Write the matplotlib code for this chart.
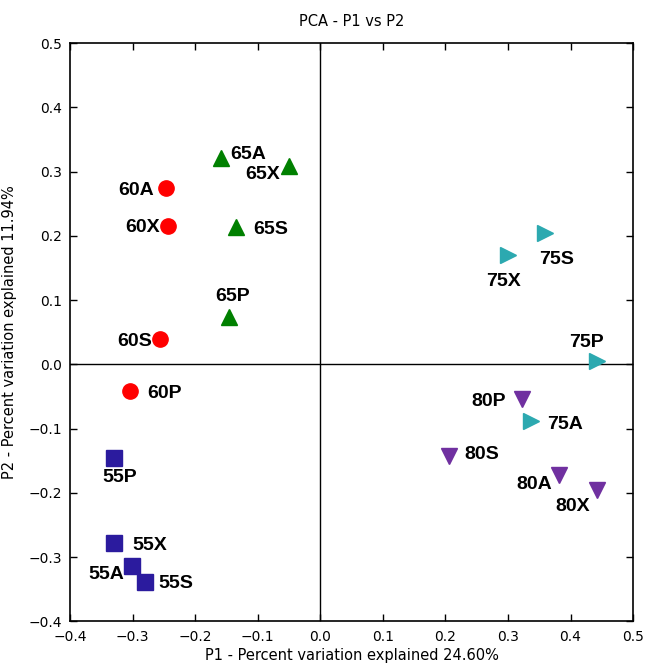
import matplotlib
matplotlib.use('Agg')
import matplotlib.pyplot as plt

plt.rcParams['font.size'] = 10

# PCA scores (P1, P2) per sample group
names_55 = ['55P', '55X', '55A', '55S']
p1_55 = [-0.329, -0.329, -0.301, -0.280]
p2_55 = [-0.146, -0.278, -0.313, -0.338]

names_60 = ['60A', '60X', '60S', '60P']
p1_60 = [-0.247, -0.243, -0.256, -0.304]
p2_60 = [0.274, 0.216, 0.040, -0.042]

names_65 = ['65A', '65X', '65S', '65P']
p1_65 = [-0.158, -0.050, -0.134, -0.146]
p2_65 = [0.321, 0.309, 0.214, 0.074]

names_75 = ['75S', '75X', '75P', '75A']
p1_75 = [0.360, 0.300, 0.442, 0.337]
p2_75 = [0.205, 0.170, 0.005, -0.088]

names_80 = ['80P', '80S', '80A', '80X']
p1_80 = [0.322, 0.205, 0.382, 0.442]
p2_80 = [-0.054, -0.143, -0.172, -0.195]

# label placement: (dx right, dy down) in pixels, horizontal alignment
label_pos = {
    '55P': (5, 19, 'center'), '55X': (18, 2, 'left'), '55A': (-8, 9, 'right'), '55S': (13, 2, 'left'),
    '60A': (-12, 2, 'right'), '60X': (-8, 2, 'right'), '60S': (-8, 3, 'right'), '60P': (17, 2, 'left'),
    '65A': (9, -4, 'left'), '65X': (-9, 9, 'right'), '65S': (17, 3, 'left'), '65P': (4, -20, 'center'),
    '75S': (11, 27, 'center'), '75X': (-4, 26, 'center'), '75P': (-10, -19, 'center'), '75A': (16, 4, 'left'),
    '80P': (-16, 2, 'right'), '80S': (16, -2, 'left'), '80A': (-7, 10, 'right'), '80X': (-24, 17, 'center'),
}

groups = [
    (names_55, p1_55, p2_55, 's', '#2b1b9e', 11),
    (names_60, p1_60, p2_60, 'o', '#ff0000', 11),
    (names_65, p1_65, p2_65, '^', '#008000', 12),
    (names_75, p1_75, p2_75, '>', '#2ca9b0', 12),
    (names_80, p1_80, p2_80, 'v', '#7030a0', 12),
]

fig = plt.figure(figsize=(6.46, 6.63), dpi=100)
ax = fig.add_axes([0.1084, 0.0626, 0.8716, 0.8724])

ax.axhline(0, color='black', lw=1, zorder=1)
ax.axvline(0, color='black', lw=1, zorder=1)

for names, xs, ys, mk, col, ms in groups:
    ax.plot(xs, ys, linestyle='none', marker=mk, color=col, markersize=ms,
            markeredgecolor=col, zorder=3)
    for n, x, y in zip(names, xs, ys):
        dx, dy, ha = label_pos[n]
        ax.annotate(n, (x, y), xytext=(dx, -dy), textcoords='offset pixels',
                    ha=ha, va='center', fontsize=14, fontweight='bold',
                    family=['Liberation Sans', 'DejaVu Sans'], zorder=4)

ax.set_xlim(-0.4, 0.5)
ax.set_ylim(-0.4, 0.5)
ax.set_xticks([-0.4, -0.3, -0.2, -0.1, 0.0, 0.1, 0.2, 0.3, 0.4, 0.5])
ax.set_yticks([-0.4, -0.3, -0.2, -0.1, 0.0, 0.1, 0.2, 0.3, 0.4, 0.5])
ax.tick_params(direction='in', top=True, right=True, length=5, width=1, pad=6)
for s in ax.spines.values():
    s.set_linewidth(1.2)

ax.set_title('PCA - P1 vs P2', fontsize=10.5, pad=12)
ax.set_xlabel('P1 - Percent variation explained 24.60%', fontsize=10.5, labelpad=3)
ax.set_ylabel('P2 - Percent variation explained 11.94%', fontsize=10.5, labelpad=8)

fig.savefig('out.png', dpi=100)
